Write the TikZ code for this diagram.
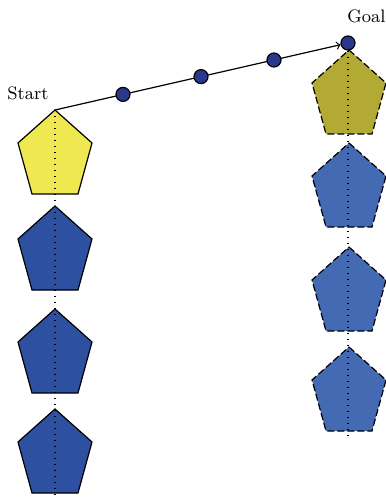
\documentclass[tikz,border=0pt]{standalone}
\usepackage{tikz}
\definecolor{startyellow}{HTML}{F0E850}
\definecolor{goalolive}{HTML}{B2AA34}
\definecolor{blockblue}{HTML}{2E50A0}
\definecolor{ghostblue}{HTML}{436AB2}
\definecolor{stepblue}{HTML}{28388C}
\tikzstyle{pentl}=[draw=black,line width=0.6pt,line join=miter]
\tikzstyle{pentr}=[draw=black,line width=0.6pt,dash pattern=on 3.5pt off 1.5pt]
\tikzstyle{stepdot}=[circle,draw=black,line width=0.6pt,fill=stepblue,minimum size=7pt,inner sep=0pt]
\tikzstyle{axisdots}=[line width=0.8pt,dash pattern=on 0.5pt off 2.5pt]
\tikzset{pent/.pic={\path[pic actions] (0,0) -- (37,33) -- (23,84) -- (-23,84) -- (-37,33) -- cycle;}}

\begin{document}
\begin{tikzpicture}[x=0.5pt,y=-0.5pt]
    \useasboundingbox (0,0) rectangle (385,497);
    % left stack
    \pic[pentl,fill=startyellow] at (55,110) {pent};
    \foreach \y in {206,309,409}
    \pic[pentl,fill=blockblue] at (55,\y) {pent};
    % right stack
    \pic[pentr,fill=goalolive] at (349,50) {pent};
    \foreach \y in {143,247,347}
    \pic[pentr,fill=ghostblue] at (349,\y) {pent};

    \coordinate (s) at (55,110);
    \coordinate (sb) at (55,497);
    \coordinate (gb) at (348,437);
    \node[stepdot] (g) at (348,43) {};
    \draw[axisdots] (s) -- (sb);
    \draw[axisdots] (g) -- (gb);

    \node[anchor=base] (startlbl) at (28,100) {\small Start};
    \node[anchor=base west,inner sep=0pt] (goallbl) at (347,23) {\small Goal};

    \draw[->,line width=0.6pt] (s) -- (g);
    \node[stepdot] (d1) at (123,94.4) {};
    \node[stepdot] (d2) at (201,76.6) {};
    \node[stepdot] (d3) at (274,60) {};
\end{tikzpicture}
\end{document}
